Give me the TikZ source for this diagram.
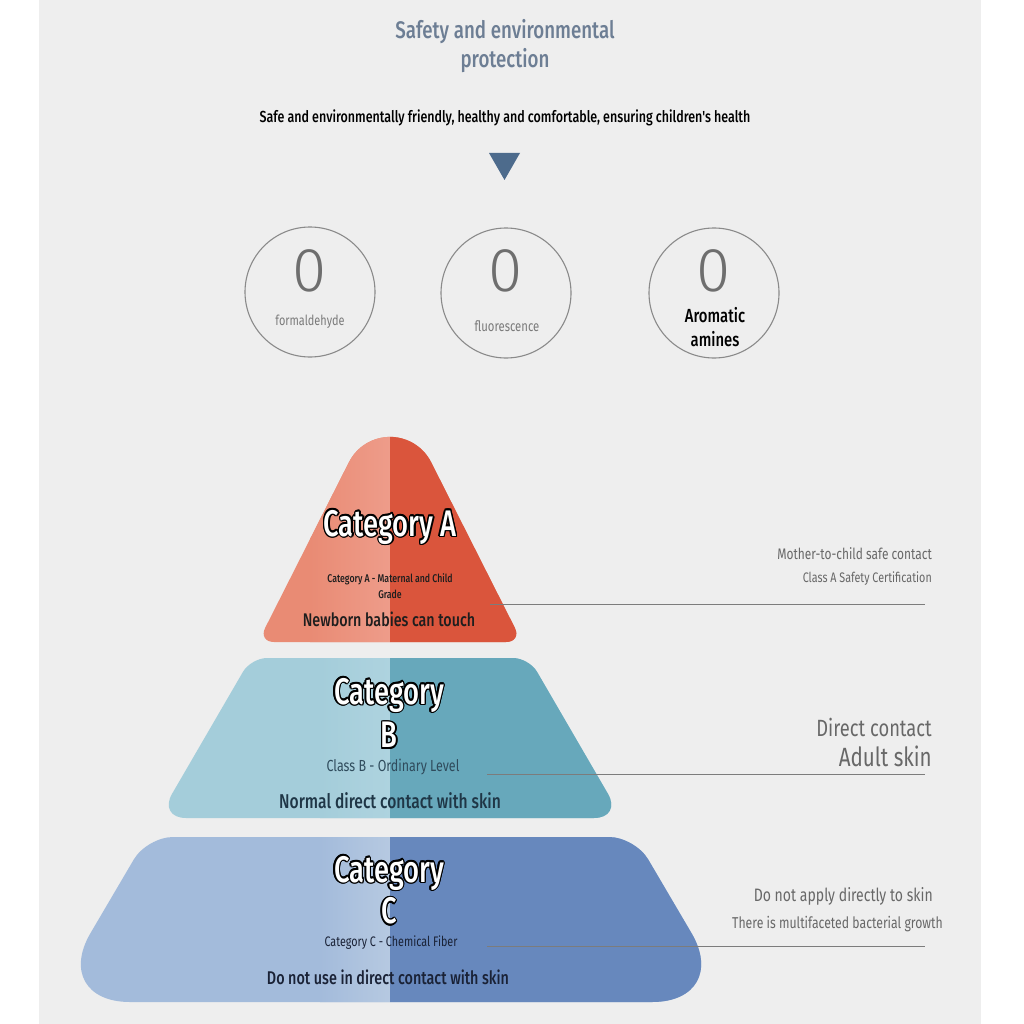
\documentclass[tikz,border=0pt]{standalone}
\usepackage{fontspec}
\setmainfont{Fira Sans}[FakeStretch=0.78]
\newfontfamily\medf{Fira Sans Medium}[FakeStretch=0.78]
\newfontfamily\catf{Fira Sans Medium}[FakeStretch=0.74]
\newfontfamily\lightf{Fira Sans Light}
\usetikzlibrary{calc}
\definecolor{bg}{HTML}{EEEEEE}
\definecolor{titlec}{HTML}{6D7E94}
\definecolor{arrowc}{HTML}{4D6B8C}
\definecolor{ringc}{HTML}{8A8A8A}
\definecolor{zeroc}{HTML}{6E6E6E}
\definecolor{smallg}{HTML}{7A7A7A}
\definecolor{sideg}{HTML}{686868}
\definecolor{linec}{HTML}{7C7C7C}
\definecolor{aL}{HTML}{E98B74}
\definecolor{aLl}{HTML}{EE9C8A}
\definecolor{aR}{HTML}{DA553C}
\definecolor{bL}{HTML}{A4CDDA}
\definecolor{bLl}{HTML}{AED3DF}
\definecolor{bR}{HTML}{67A8BB}
\definecolor{cL}{HTML}{A3BBDB}
\definecolor{cLl}{HTML}{B6C9E1}
\definecolor{cR}{HTML}{6788BD}
\definecolor{darkt}{HTML}{1E1E1E}
\definecolor{bnavy}{HTML}{1F3646}
\definecolor{bsub}{HTML}{2F4B5C}
\definecolor{cnavy}{HTML}{1A2236}
\tikzset{
  txt/.style={inner sep=0pt, align=center},
  sidetxt/.style={inner sep=0pt, anchor=east, text=sideg},
  cattxt/.style={inner sep=0pt, font=\catf\fontsize{37}{39}\selectfont},
  ring/.style={circle, draw=ringc, line width=1.1pt, minimum size=130pt, inner sep=0pt},
  leader/.style={draw=linec, line width=0.8pt},
}
% outlined text built inside a single box
\newcommand{\oc}[3]{\rlap{\hspace*{#1pt}\raisebox{#2pt}{#3}}}
\newcommand{\olt}[1]{\leavevmode{\color{black}%
  \oc{1.4}{0}{#1}\oc{1.21}{0.7}{#1}\oc{0.7}{1.21}{#1}\oc{0}{1.4}{#1}%
  \oc{-0.7}{1.21}{#1}\oc{-1.21}{0.7}{#1}\oc{-1.4}{0}{#1}\oc{-1.21}{-0.7}{#1}%
  \oc{-0.7}{-1.21}{#1}\oc{0}{-1.4}{#1}\oc{0.7}{-1.21}{#1}\oc{1.21}{-0.7}{#1}}%
  \textcolor{white}{#1}}
\newcommand{\shapeA}{(390,642) [rounded corners=16] -- (258,642) [sharp corners] -- (348.9,462.3) arc[start angle=206.57, end angle=333.43, radius=46] [rounded corners=16] -- (522,642) -- cycle}
\newcommand{\shapeB}{(390,658) [rounded corners=16] -- (251,658) [rounded corners=28] -- (158,818) -- (622,818) [rounded corners=16] -- (529,658) -- cycle}
\newcommand{\shapeC}{(391,837) [rounded corners=26] -- (147,837) [rounded corners=80] -- (50,1002) -- (732,1002) [rounded corners=26] -- (635,837) -- cycle}
\begin{document}
\begin{tikzpicture}[x=1pt,y=-1pt]
\useasboundingbox (0,0) rectangle (1024,1024);
\fill[white] (0,0) rectangle (1024,1024);
\fill[bg] (39,0) rectangle (981,1024);

% title
\node[txt, text=titlec, font=\medf\fontsize{24}{29}\selectfont] (title) at (505,46) {Safety and environmental\\protection};
\node[txt, text=black, font=\medf\fontsize{16}{18}\selectfont] (sub) at (505,118) {Safe and environmentally friendly, healthy and comfortable, ensuring children's health};
\fill[arrowc] (489,153) -- (520,153) -- (504.5,180) -- cycle;

% circles
\node[ring] (c1) at (310,292) {};
\node[ring] (c2) at (506,293) {};
\node[ring] (c3) at (714,293) {};
\node[txt, text=zeroc, font=\lightf\fontsize{62}{62}\selectfont] (z1) at (310,271) {0};
\node[txt, text=zeroc, font=\lightf\fontsize{62}{62}\selectfont] (z2) at (506,271) {0};
\node[txt, text=zeroc, font=\lightf\fontsize{62}{62}\selectfont] (z3) at (714,271) {0};
\node[txt, text=smallg, font=\fontsize{14}{16}\selectfont] (l1) at (310,322) {formaldehyde};
\node[txt, text=smallg, font=\fontsize{14.5}{16}\selectfont] (l2) at (507,326) {fluorescence};
\node[txt, text=black, font=\medf\fontsize{19}{24}\selectfont] (l3) at (715,327) {Aromatic\\amines};

% pyramid A
\fill[aL] \shapeA;
\begin{scope}
\clip \shapeA;
\shade[left color=aL, right color=aLl] (310,380) rectangle (390,660);
\fill[aR] (390,380) rectangle (560,660);
\end{scope}

% pyramid B
\fill[bL] \shapeB;
\begin{scope}
\clip \shapeB;
\shade[left color=bL, right color=bLl] (320,640) rectangle (390,830);
\fill[bR] (390,640) rectangle (660,830);
\end{scope}

% pyramid C
\fill[cL] \shapeC;
\begin{scope}
\clip \shapeC;
\shade[left color=cL, right color=cLl] (320,820) rectangle (390,1010);
\fill[cR] (390,820) rectangle (760,1010);
\end{scope}

% texts A
\node[cattxt] (catA) at (390,527) {\olt{Category A}};
\node[txt, text=darkt, font=\medf\fontsize{11.2}{16}\selectfont] (subA) at (390,586) {Category A - Maternal and Child\\Grade};
\node[txt, text=darkt, font=\medf\fontsize{18.3}{20}\selectfont] (descA) at (389,619) {Newborn babies can touch};

% texts B
\node[cattxt] (catB1) at (389,695) {\olt{Category}};
\node[cattxt] (catB2) at (389,735) {\olt{B}};
\node[txt, text=bsub, font=\fontsize{16}{18}\selectfont] (subB) at (393,767) {Class B - Ordinary Level};
\node[txt, text=bnavy, font=\medf\fontsize{20}{22}\selectfont] (descB) at (390,801) {Normal direct contact with skin};

% texts C
\node[cattxt] (catC1) at (389,873) {\olt{Category}};
\node[cattxt] (catC2) at (389,911) {\olt{C}};
\node[txt, text=cnavy, font=\fontsize{13.8}{16}\selectfont] (subC) at (391,943) {Category C - Chemical Fiber};
\node[txt, text=cnavy, font=\medf\fontsize{18.4}{20}\selectfont] (descC) at (388,977) {Do not use in direct contact with skin};

% side texts
\node[sidetxt, font=\fontsize{15.3}{17}\selectfont] (sA1) at (932,554) {Mother-to-child safe contact};
\node[sidetxt, font=\fontsize{13.8}{16}\selectfont] (sA2) at (932,579) {Class A Safety Certification};
\node[sidetxt, font=\fontsize{23.5}{26}\selectfont] (sB1) at (932,727) {Direct contact};
\node[sidetxt, font=\fontsize{26.4}{30}\selectfont] (sB2) at (932,756) {Adult skin};
\node[sidetxt, font=\fontsize{18}{20}\selectfont] (sC1) at (933,896) {Do not apply directly to skin};
\node[sidetxt, font=\fontsize{15.7}{18}\selectfont] (sC2) at (943,924) {There is multifaceted bacterial growth};

% leader lines
\coordinate (lA) at (490,604); \coordinate (rA) at (925,604);
\coordinate (lB) at (487,774); \coordinate (rB) at (925,774);
\coordinate (lC) at (487,946); \coordinate (rC) at (925,946);
\draw[leader] (lA) -- (rA);
\draw[leader] (lB) -- (rB);
\draw[leader] (lC) -- (rC);
\end{tikzpicture}
\end{document}
